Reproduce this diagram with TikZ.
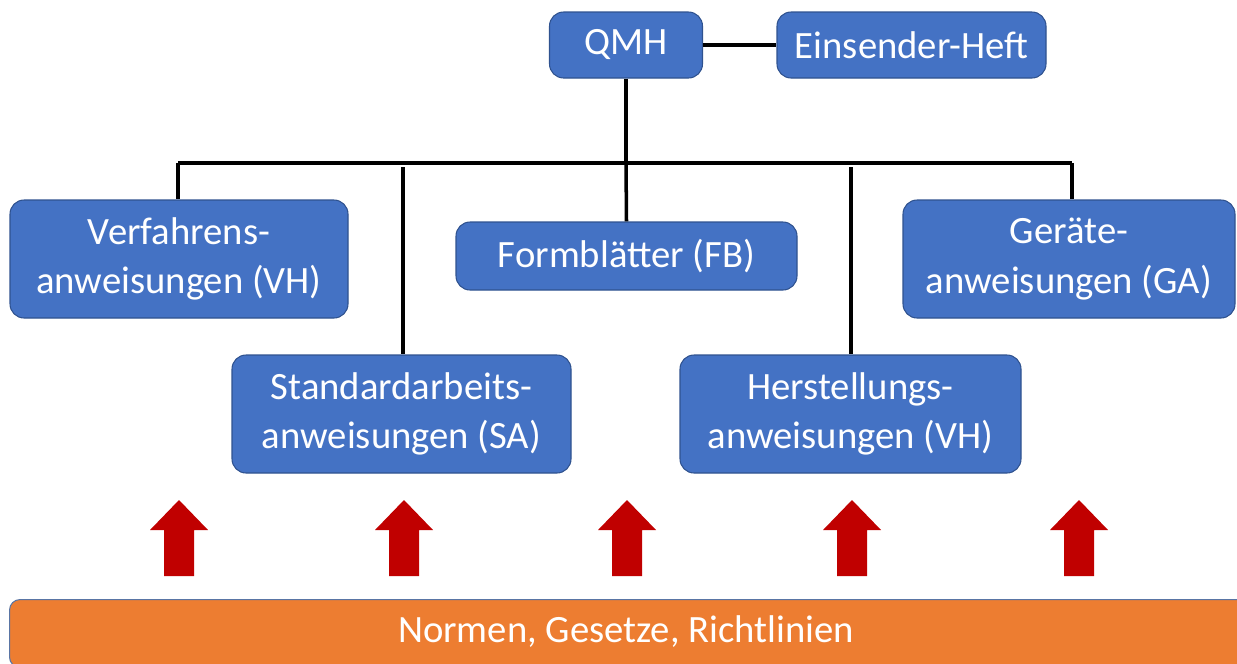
\documentclass[tikz,border=0pt]{standalone}
\usepackage{fontspec}
\setmainfont{Carlito}
\definecolor{boxblue}{HTML}{4472C4}
\definecolor{boxedge}{HTML}{2F528F}
\definecolor{barorange}{HTML}{ED7D31}
\definecolor{arrowred}{HTML}{C00000}
\tikzset{
  bluebox/.style={fill=boxblue, draw=boxedge, line width=0.6pt, rounded corners=8pt,
    text=white, font=\fontsize{22}{28}\selectfont, align=center, inner sep=0pt},
  link/.style={line width=2pt, black},
  uparrow/.style={fill=arrowred, draw=none}
}
\begin{document}
\begin{tikzpicture}[x=0.02cm, y=-0.02cm]
\useasboundingbox (0,0) rectangle (1237,663);
% boxes
\node[bluebox, minimum width=153*0.02cm, minimum height=66*0.02cm] (qmh) at (626,45) {QMH};
\node[bluebox, minimum width=269*0.02cm, minimum height=66*0.02cm] (eh) at (911.5,45) {Einsender-Heft};
\node[bluebox, minimum width=338*0.02cm, minimum height=118*0.02cm] (va) at (179,259) {Verfahrens-\\anweisungen (VH)};
\node[bluebox, minimum width=341*0.02cm, minimum height=68*0.02cm] (fb) at (626.5,256) {Formblätter (FB)};
\node[bluebox, minimum width=332*0.02cm, minimum height=118*0.02cm] (ga) at (1069,259) {Geräte-\\anweisungen (GA)};
\node[bluebox, minimum width=339*0.02cm, minimum height=118*0.02cm] (sa) at (401.5,414) {Standardarbeits-\\anweisungen (SA)};
\node[bluebox, minimum width=341*0.02cm, minimum height=118*0.02cm] (ha) at (850.5,414) {Herstellungs-\\anweisungen (VH)};
% orange bar
\node[fill=barorange, draw=boxedge!80, line width=0.6pt, rounded corners=6pt, minimum width=1250*0.02cm, minimum height=68*0.02cm,
  anchor=north west, inner sep=0pt] (bar) at (9,599) {};
\node[text=white, font=\fontsize{22}{28}\selectfont] (bartext) at (626,632) {Normen, Gesetze, Richtlinien};
% connectors
\coordinate (hl) at (178,163);
\coordinate (hr) at (1072,163);
\coordinate (hm) at (626,163);
\coordinate (sTop) at (403,167);
\coordinate (hTop) at (851,167);
\draw[link] (qmh.east) -- (eh.west);
\draw[link] (qmh.south) -- (hm);
\draw[link] (hl) -- (hr);
\draw[link] (hl) -- (hl |- va.north);
\draw[link] (hr) -- (hr |- ga.north);
\draw[link] (hm) -- (fb.north);
\draw[link] (sTop) -- (sTop |- sa.north);
\draw[link] (hTop) -- (hTop |- ha.north);
% red arrows
\foreach \x in {179, 404, 627, 852, 1079} {
  \fill[uparrow] (\x,500) -- (\x+29,530) -- (\x+15,530) -- (\x+15,576) -- (\x-15,576) -- (\x-15,530) -- (\x-29,530) -- cycle;
}
\end{tikzpicture}
\end{document}
